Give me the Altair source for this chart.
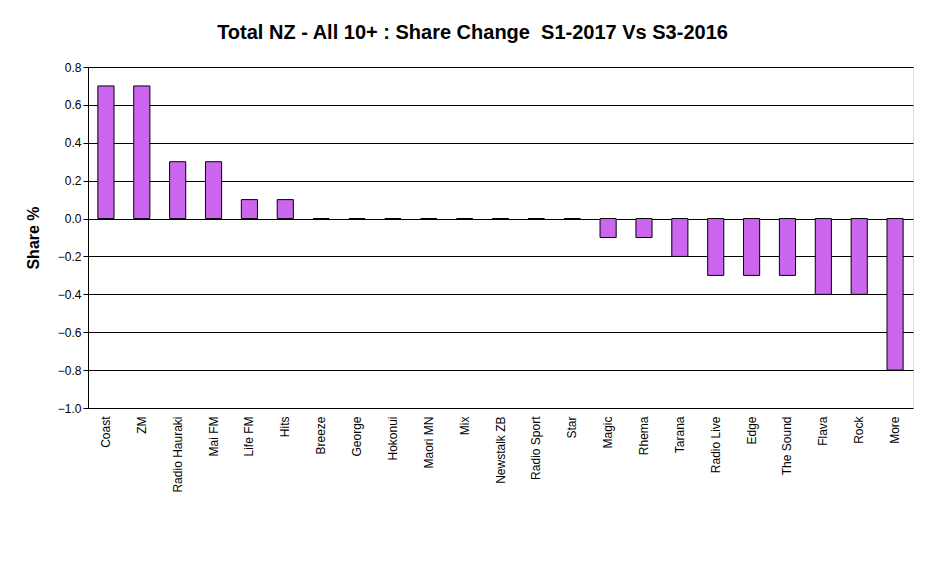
import altair as alt
import pandas as pd

stations = ["Coast","ZM","Radio Hauraki","Mai FM","Life FM","Hits","Breeze","George","Hokonui",
            "Maori MN","Mix","Newstalk ZB","Radio Sport","Star","Magic","Rhema","Tarana",
            "Radio Live","Edge","The Sound","Flava","Rock","More"]
changes = [0.7,0.7,0.3,0.3,0.1,0.1,0,0,0,0,0,0,0,0,-0.1,-0.1,-0.2,-0.3,-0.3,-0.3,-0.4,-0.4,-0.8]

df = pd.DataFrame({"station": stations, "change": changes})

chart = alt.Chart(df).mark_bar(color="#CC66EE", stroke="black", strokeWidth=1).encode(
    x=alt.X("station:N", sort=stations, title=None,
            scale=alt.Scale(paddingInner=0.55, paddingOuter=0.275),
            axis=alt.Axis(labelAngle=270, labelFont="Arial", labelFontSize=12, labelColor="black",
                          ticks=False, domain=False, labelPadding=8)),
    y=alt.Y("change:Q", title="Share %",
            scale=alt.Scale(domain=[-1.0, 0.8], nice=False),
            axis=alt.Axis(values=[-1.0,-0.8,-0.6,-0.4,-0.2,0,0.2,0.4,0.6,0.8], format=".1f",
                          gridColor="black", gridOpacity=1, domainColor="black", tickColor="black",
                          labelFont="Arial", labelFontSize=12, labelColor="black",
                          titleFont="Arial", titleFontSize=16, titleColor="black", titlePadding=16)),
).properties(
    width=825, height=341,
    title=alt.TitleParams("Total NZ - All 10+ : Share Change\u00a0\u00a0S1-2017 Vs S3-2016",
                          font="Arial", fontSize=20, fontWeight="bold", color="black", offset=18,
                          dx=-28),
    autosize=alt.AutoSizeParams(type="none"),
    padding={"left": 80, "top": 59, "right": 30, "bottom": 150},
).configure_view(stroke="black", strokeWidth=1).configure(background="white")

chart.save("out.html", embed_options={"renderer": "svg", "actions": False})
